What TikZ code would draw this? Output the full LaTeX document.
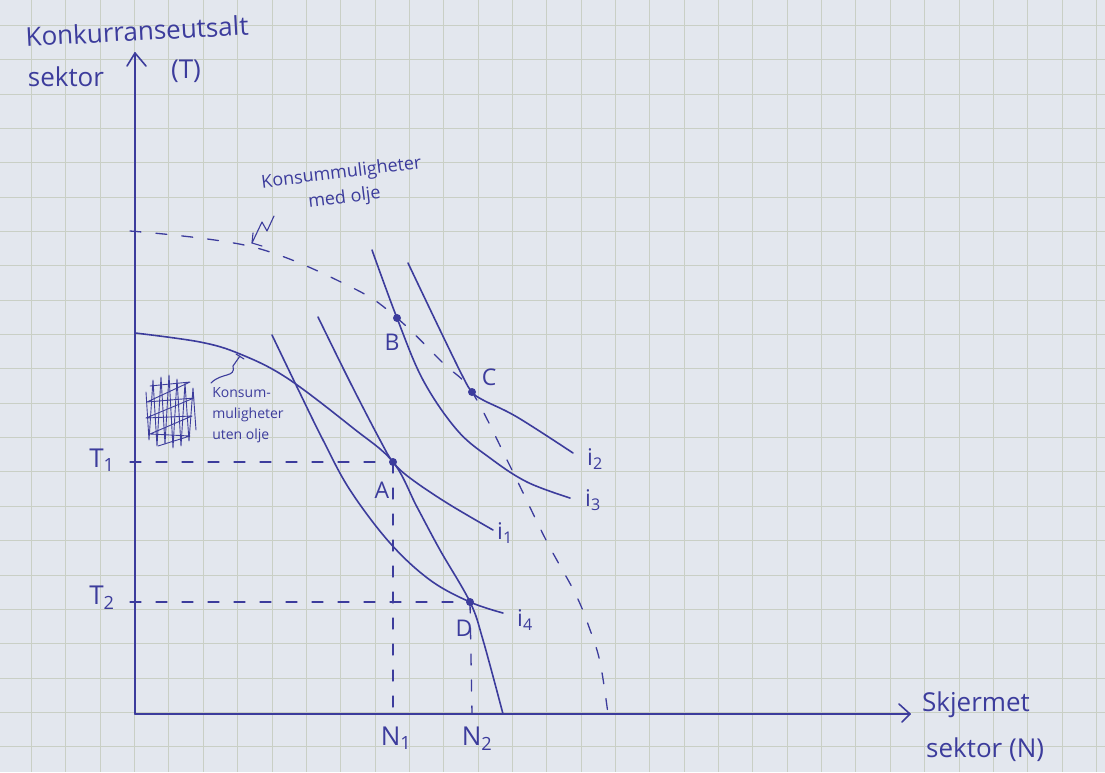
\documentclass[tikz,border=0pt]{standalone}
\usepackage{fontspec}
\setmainfont{Open Sans}
\definecolor{paper}{HTML}{E3E7EE}
\definecolor{gridc}{HTML}{C9CFC5}
\definecolor{ink}{HTML}{3C3C9C}
\begin{document}
\begin{tikzpicture}[x=1pt,y=-1pt,
  pen/.style={draw=ink, line width=1.6pt, line cap=round, line join=round},
  thinpen/.style={draw=ink, line width=1.1pt, line cap=round, line join=round},
  dashpen/.style={draw=ink, line width=1.3pt, line cap=round, dash pattern=on 11pt off 15pt},
  gridline/.style={draw=gridc, line width=0.9pt},
  hand/.style={text=ink, inner sep=0pt},
  big/.style={hand, font=\fontsize{26}{30}\selectfont},
  mid/.style={hand, font=\fontsize{23}{27}\selectfont},
  small/.style={hand, font=\fontsize{18}{25}\selectfont, align=center},
  tiny/.style={hand, font=\fontsize{14}{21}\selectfont, align=left},
  dot/.style={circle, fill=ink, inner sep=0pt, minimum size=8pt}
]
% paper and grid
\fill[paper] (0,0) rectangle (1105,772);
\useasboundingbox (0,0) rectangle (1105,772);
\foreach \k in {0,...,31} \draw[gridline] ({31.5+34.35*\k},0) -- ++(0,772);
\foreach \k in {-1,...,20} \draw[gridline] (0,{59.7+34.35*\k}) -- ++(1105,0);

% key coordinates
\coordinate (O) at (135,714);
\coordinate (ytop) at (135,53);
\coordinate (xend) at (910,714);
\coordinate (A) at (393,462);
\coordinate (B) at (397,318);
\coordinate (C) at (472,392);
\coordinate (D) at (470,602);
\coordinate (T1) at (130,462);
\coordinate (T2) at (130,602);
\coordinate (N1) at (393,714);
\coordinate (N2) at (472,714);

% axes
\draw[pen] (O) -- (ytop);
\draw[pen] (127,66) -- (ytop) -- (146,66);
\draw[pen] (O) -- (xend);
\draw[pen] (899,704) -- (xend) -- (902,722);

% dashed guides
\draw[dashpen] (T1) -- (A);
\draw[dashpen] (T2) -- (D);
\draw[dashpen] (A) -- (N1);
\draw[dashpen] (D) -- (N2);

% consumption possibilities with oil (dashed)
\draw[dashpen] plot[smooth, tension=0.6] coordinates {(130,231) (253,247) (353,288) (B) (443,363) (C) (510,466) (546,540) (575,593) (589,627) (600,662) (608,714)};

% consumption possibilities without oil (solid)
\draw[pen] plot[smooth, tension=0.6] coordinates {(135,333) (200,342) (240,354) (287,378) (353,428) (A) (417,507) (440,550) (D) (483,640) (503,714)};

% indifference curves
\draw[pen] plot[smooth, tension=0.6] coordinates {(318,317) (350,382) (380,440) (A) (410,478) (447,503) (493,530)};
\draw[pen] plot[smooth, tension=0.6] coordinates {(272,335) (297,387) (323,440) (350,490) (390,543) (430,580) (D) (503,613)};
\draw[pen] plot[smooth, tension=0.6] coordinates {(372,250) (B) (423,380) (457,430) (490,458) (527,482) (570,498)};
\draw[pen] plot[smooth, tension=0.6] coordinates {(408,263) (440,330) (463,377) (C) (483,400) (517,417) (573,453)};

% points
\foreach \p in {A,B,C,D} \node[dot] at (\p) {};

% point labels
\node[mid] (lA) at (382,490) {A};
\node[mid] (lB) at (392,342) {B};
\node[mid] (lC) at (489,377) {C};
\node[mid] (lD) at (464,628) {D};
\node[mid] (li1) at (505,533) {i\textsubscript{1}};
\node[mid] (li4) at (525,620) {i\textsubscript{4}};
\node[mid] (li2) at (595,459) {i\textsubscript{2}};
\node[mid] (li3) at (593,500) {i\textsubscript{3}};
\node[big] (lT1) at (102,460) {T\textsubscript{1}};
\node[big] (lT2) at (102,598) {T\textsubscript{2}};
\node[big] (lN1) at (396,738) {N\textsubscript{1}};
\node[big] (lN2) at (477,739) {N\textsubscript{2}};

% axis labels
\node[big, rotate=3] (ylab1) at (137,31) {Konkurranseutsalt};
\node[big] (ylab2) at (66,77) {sektor};
\node[big] (ylab3) at (186,71) {(T)};
\node[big, anchor=west] (xlab1) at (922,705) {Skjermet};
\node[big, anchor=west] (xlab2) at (926,750) {sektor (N)};

% annotation: with oil
\node[small, rotate=7] (olje) at (343,186) {Konsummuligheter\\med olje};
\draw[thinpen] (274,216) -- (267,231) -- (262,222) -- (252,243);
\draw[thinpen] (253,233) -- (252,243) -- (262,246);

% annotation: without oil
\node[tiny] (uten) at (248,415) {Konsum-\\muligheter\\uten olje};
\draw[thinpen] (211,383) .. controls (222,372) and (236,378) .. (233,366) -- (240,356);
\draw[thinpen] (236,354) -- (244,359);

% scribble
\draw[thinpen, line width=0.9pt] (146,392) -- (149,440) -- (153,380) -- (157,446) -- (161,377) -- (165,444) -- (169,375) -- (173,448) -- (177,379) -- (181,446) -- (185,383) -- (189,441) -- (193,388) -- (196,430);
\draw[thinpen, line width=0.9pt] (150,386) -- (190,382) -- (147,402) -- (194,398) -- (146,418) -- (192,416) -- (150,434) -- (190,436) -- (158,446);
\end{tikzpicture}
\end{document}
